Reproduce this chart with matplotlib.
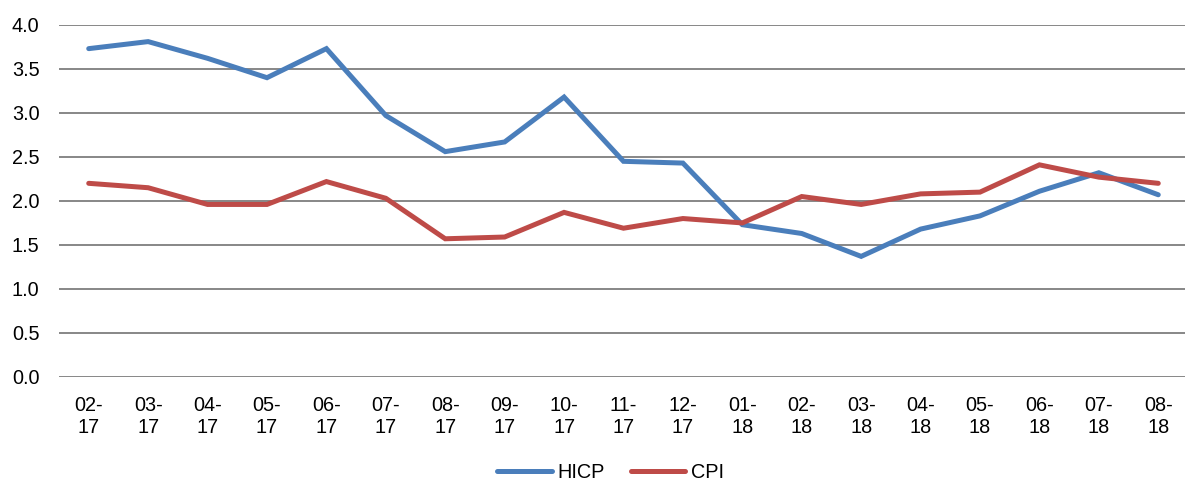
import matplotlib
matplotlib.use("Agg")
import matplotlib.pyplot as plt

plt.rcParams['font.family'] = ['Liberation Sans', 'DejaVu Sans']

categories = ["02-\n17", "03-\n17", "04-\n17", "05-\n17", "06-\n17", "07-\n17", "08-\n17",
              "09-\n17", "10-\n17", "11-\n17", "12-\n17", "01-\n18", "02-\n18", "03-\n18",
              "04-\n18", "05-\n18", "06-\n18", "07-\n18", "08-\n18"]
hicp = [3.73, 3.81, 3.62, 3.40, 3.73, 2.97, 2.56, 2.67, 3.18, 2.45, 2.43, 1.73,
        1.63, 1.37, 1.68, 1.83, 2.11, 2.32, 2.07]
cpi = [2.20, 2.15, 1.96, 1.96, 2.22, 2.03, 1.57, 1.59, 1.87, 1.69, 1.80, 1.75,
       2.05, 1.96, 2.08, 2.10, 2.41, 2.27, 2.20]
yticks = [0.0, 0.5, 1.0, 1.5, 2.0, 2.5, 3.0, 3.5, 4.0]

fig = plt.figure(figsize=(11.85, 4.83), dpi=100)
ax = fig.add_axes([0.0498, 0.2195, 0.9502, 0.729])

x = list(range(len(categories)))
ax.plot(x, hicp, color='#4A7EBB', lw=3.6, label='HICP', solid_capstyle='round', solid_joinstyle='miter')
ax.plot(x, cpi, color='#BE4B48', lw=3.6, label='CPI', solid_capstyle='round', solid_joinstyle='miter')

ax.set_ylim(0, 4.0)
ax.set_xlim(-0.5, 18.45)
ax.set_yticks(yticks)
ax.set_yticklabels([f"{v:.1f}" for v in yticks], fontsize=14.3)
ax.set_xticks(x)
ax.set_xticklabels(categories, fontsize=14.3, linespacing=1.2)
ax.grid(axis='y', color='#878787', lw=1.4)
ax.set_axisbelow(True)
for s in ax.spines.values():
    s.set_visible(False)
ax.tick_params(axis='both', length=0)
ax.tick_params(axis='y', pad=14)
ax.tick_params(axis='x', pad=14)

leg = ax.legend(loc='center', bbox_to_anchor=(0.49, -0.27), ncol=2, frameon=False,
                fontsize=14.3, handlelength=2.75, handletextpad=0.3, columnspacing=1.3)

fig.savefig('out.png', dpi=100)
